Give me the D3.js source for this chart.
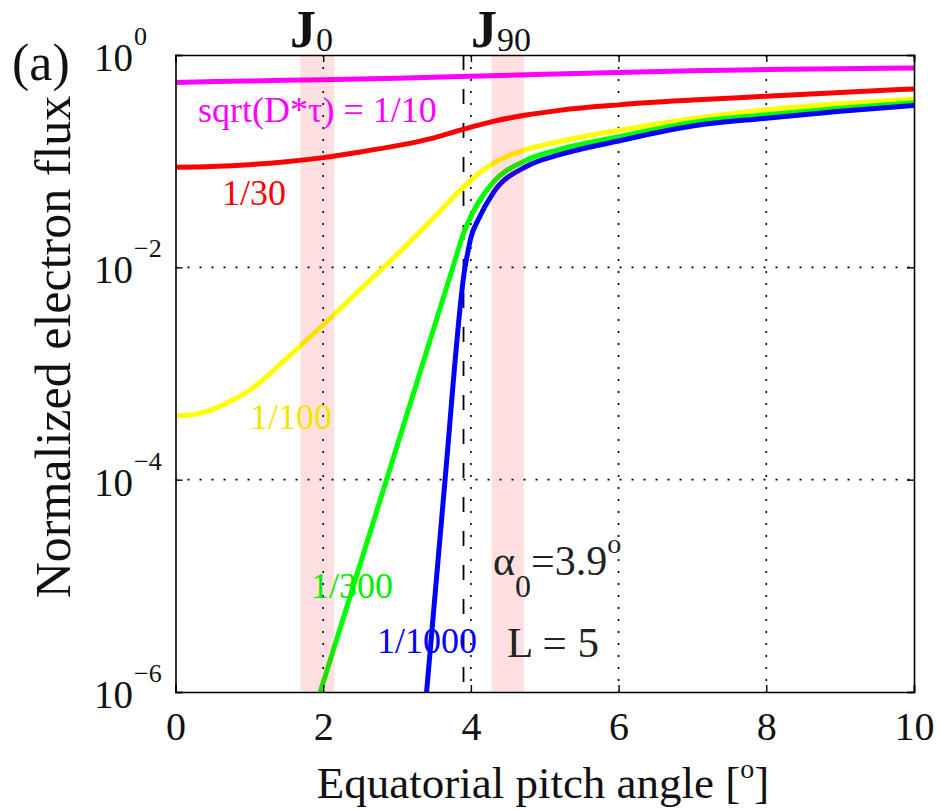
<!DOCTYPE html>
<html>
<head>
<meta charset="utf-8">
<script src="https://cdn.jsdelivr.net/npm/d3@7"></script>
<style>
  body { margin: 0; background: white; }
  text { font-family: "Liberation Serif", "Times New Roman", serif; }
</style>
</head>
<body>
<div id="viz-container"></div>
<script>
// data (angle in degrees, normalized flux)
let magentaX = [0, 1, 2, 3, 4, 5, 6, 7, 8, 9, 10];
let magentaY = [0.552, 0.569, 0.586, 0.605, 0.631, 0.658, 0.684, 0.711, 0.730, 0.743, 0.753];

let redX = [0, 0.5, 1, 1.5, 2, 2.5, 3, 3.5, 3.9, 4.3, 4.75, 5.2, 6, 7, 8, 9, 10];
let redY = [0.0877, 0.0891, 0.0927, 0.0989, 0.108, 0.122, 0.140, 0.166, 0.200, 0.237, 0.272, 0.301, 0.339, 0.376, 0.409, 0.444, 0.479];

let yellowX = [0, 0.25, 0.5, 0.75, 1, 1.5, 2, 2.5, 3, 3.5, 3.86, 4.08, 4.3, 4.75, 5.2, 6, 7, 8, 9, 10];
let yellowY = [3.98e-4, 4.12e-4, 4.57e-4, 5.50e-4, 6.92e-4, 1.38e-3, 2.88e-3, 6.17e-3, 0.0132, 0.0295, 0.0537, 0.0741, 0.0955, 0.129, 0.153, 0.195, 0.251, 0.305, 0.347, 0.385];

let greenX = [1.96, 2.858, 3.756, 3.9, 4.0, 4.1, 4.3, 4.75, 5.2, 6, 7, 8, 9, 10];
let greenY = [1e-6, 1e-4, 0.01, 0.0209, 0.0302, 0.0407, 0.0631, 0.102, 0.129, 0.170, 0.232, 0.274, 0.316, 0.355];

let blueX = [3.40, 3.65, 3.92, 3.96, 4.0, 4.1, 4.3, 4.75, 5.2, 6, 7, 8, 9, 10];
let blueY = [1e-6, 1e-4, 0.01, 0.0141, 0.0191, 0.0282, 0.0501, 0.0891, 0.115, 0.155, 0.214, 0.254, 0.295, 0.335];

let seriesNames = ["1/10", "1/30", "1/100", "1/300", "1/1000"];
let seriesColors = ["#ff00ff", "#ff0000", "#ffff00", "#00ff00", "#0000ff"];

// shaded J0 / J90 bands and loss cone angle
let bandNames = ["J0", "J90"];
let bandStart = [1.69, 4.28];
let bandEnd = [2.15, 4.72];
let lossCone = 3.9;

let xTicks = [0, 2, 4, 6, 8, 10];
let yTicks = [1e-6, 1e-4, 1e-2, 1];
let yExponents = ["\u22126", "\u22124", "\u22122", "0"];

//create canvas
let viz = d3.select("#viz-container")
    .append("svg")
    .attr("width", 940)
    .attr("height", 809)
;

let plotLeft = 175.5, plotRight = 914, plotTop = 55, plotBottom = 692;

let x = d3.scaleLinear().domain([0, 10]).range([plotLeft, plotRight]);
let y = d3.scaleLog().domain([1e-6, 1]).range([plotBottom, plotTop]);

viz.append("clipPath").attr("id", "plotclip")
  .append("rect")
    .attr("x", plotLeft).attr("y", plotTop)
    .attr("width", plotRight - plotLeft).attr("height", plotBottom - plotTop);

// dotted grid
viz.selectAll(".vgrid").data([2, 4, 6, 8]).enter()
  .append("line")
    .attr("x1", d => x(d)).attr("x2", d => x(d))
    .attr("y1", plotTop).attr("y2", plotBottom)
    .attr("stroke", "black").attr("stroke-width", 1.6)
    .attr("stroke-dasharray", "2,10");

viz.selectAll(".hgrid").data([1e-2, 1e-4]).enter()
  .append("line")
    .attr("x1", plotLeft).attr("x2", plotRight)
    .attr("y1", d => y(d)).attr("y2", d => y(d))
    .attr("stroke", "black").attr("stroke-width", 1.6)
    .attr("stroke-dasharray", "2,10");

// loss cone line
viz.append("line")
  .attr("x1", x(lossCone)).attr("x2", x(lossCone))
  .attr("y1", plotTop).attr("y2", plotBottom)
  .attr("stroke", "black").attr("stroke-width", 1.8)
  .attr("stroke-dasharray", "15,19");

// curves
let allX = [magentaX, redX, yellowX, greenX, blueX];
let allY = [magentaY, redY, yellowY, greenY, blueY];

let line = d3.line()
  .x(d => x(d[0]))
  .y(d => y(d[1]))
  .curve(d3.curveMonotoneX);

let curves = viz.append("g").attr("clip-path", "url(#plotclip)");
for (let i = 0; i < allX.length; i++) {
  let pts = allX[i].map((v, j) => [v, allY[i][j]]);
  curves.append("path")
    .attr("d", line(pts))
    .attr("fill", "none")
    .attr("stroke", seriesColors[i])
    .attr("stroke-width", 5);
}

// pink bands over the curves
viz.selectAll(".band").data(bandStart).enter()
  .append("rect")
    .attr("x", (d, i) => x(d))
    .attr("width", (d, i) => x(bandEnd[i]) - x(d))
    .attr("y", plotTop)
    .attr("height", plotBottom - plotTop)
    .attr("fill", "#ff0000")
    .attr("opacity", 0.12);

// axes (inner ticks)
let xAxis = viz.append("g")
  .attr("transform", "translate(0," + plotBottom + ")")
  .call(d3.axisBottom(x).tickValues(xTicks).tickSize(-7).tickFormat(d3.format("d")));
let xAxisTop = viz.append("g")
  .attr("transform", "translate(0," + plotTop + ")")
  .call(d3.axisTop(x).tickValues(xTicks).tickSize(-7).tickFormat(""));
let yAxis = viz.append("g")
  .attr("transform", "translate(" + plotLeft + ",0)")
  .call(d3.axisLeft(y).tickValues(yTicks).tickSize(-7).tickFormat(""));
let yAxisRight = viz.append("g")
  .attr("transform", "translate(" + plotRight + ",0)")
  .call(d3.axisRight(y).tickValues(yTicks).tickSize(-7).tickFormat(""));

viz.selectAll(".domain").attr("stroke", "black").attr("stroke-width", 1.6);
viz.selectAll(".tick line").attr("stroke", "black").attr("stroke-width", 1.4);

xAxis.selectAll(".tick text")
  .attr("font-family", "Liberation Serif")
  .attr("font-size", 40)
  .attr("fill", "#111")
  .attr("y", 48)
  .attr("dy", null);

// y tick labels 10^n
viz.selectAll(".ylab").data(yTicks).enter()
  .append("text")
    .attr("x", 94)
    .attr("y", d => y(d) + 16)
    .attr("font-size", 39)
    .attr("fill", "#111")
    .each(function(d, i) {
      let t = d3.select(this);
      t.append("tspan").text("10");
      t.append("tspan").attr("font-size", 26).attr("dy", -26).attr("dx", 1).text(yExponents[i]);
    });

// axis titles
viz.append("text")
  .attr("x", 543)
  .attr("y", 798)
  .attr("text-anchor", "middle")
  .attr("font-size", 45)
  .attr("fill", "#111")
  .each(function() {
    let t = d3.select(this);
    t.append("tspan").text("Equatorial pitch angle [");
    t.append("tspan").attr("font-size", 28).attr("dy", -20).text("o");
    t.append("tspan").attr("dy", 20).text("]");
  });

viz.append("text")
  .attr("transform", "translate(70,347) rotate(-90)")
  .attr("text-anchor", "middle")
  .attr("font-size", 50)
  .attr("fill", "#111")
  .text("Normalized electron flux");

viz.append("text")
  .attr("x", 12).attr("y", 80)
  .attr("font-size", 52)
  .attr("fill", "#111")
  .text("(a)");

// J0 and J90 labels
let jLabelX = [1.55, 4.0];
viz.selectAll(".jlab").data(bandNames).enter()
  .append("text")
    .attr("x", (d, i) => x(jLabelX[i]))
    .attr("y", 47)
    .attr("fill", "#111")
    .each(function(d) {
      let t = d3.select(this);
      t.append("tspan").attr("font-size", 52).attr("font-weight", "bold").text("J");
      t.append("tspan").attr("font-size", 34).attr("dy", 4).text(d.slice(1));
    });

// series labels
let labelX = [198, 222, 250, 311, 377];
let labelY = [122, 205, 429, 598, 653];
let labelText = ["sqrt(D*\u03c4) = 1/10", "1/30", "1/100", "1/300", "1/1000"];
let labelColors = ["#ff00ff", "#ff0000", "#f2e600", "#00ee00", "#0000ff"];
viz.selectAll(".slab").data(labelText).enter()
  .append("text")
    .attr("x", (d, i) => labelX[i])
    .attr("y", (d, i) => labelY[i])
    .attr("font-size", 36)
    .attr("fill", (d, i) => labelColors[i])
    .text(d => d);

// alpha0 and L
viz.append("text")
  .attr("x", 493).attr("y", 575)
  .attr("font-size", 42)
  .attr("fill", "#222")
  .each(function() {
    let t = d3.select(this);
    t.append("tspan").text("\u03b1");
    t.append("tspan").attr("font-size", 32).attr("dy", 22).text("0");
    t.append("tspan").attr("dy", -22).text("=3.9");
    t.append("tspan").attr("font-size", 28).attr("dy", -22).text("o");
  });

viz.append("text")
  .attr("x", 507).attr("y", 657)
  .attr("font-size", 43)
  .attr("fill", "#222")
  .text("L = 5");
</script>
</body>
</html>
